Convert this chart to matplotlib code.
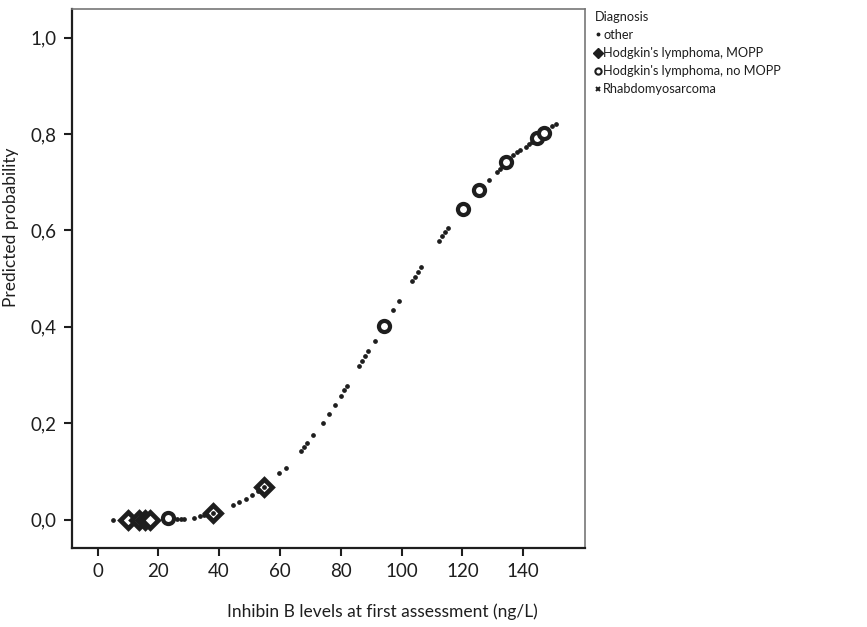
import numpy as np
import matplotlib
matplotlib.use("Agg")
import matplotlib.pyplot as plt
from matplotlib.lines import Line2D
from matplotlib.ticker import FuncFormatter

plt.rcParams['font.family'] = ['Lato', 'DejaVu Sans']

# "other" patients: inhibin B level and predicted probability
other_x = [5.2, 26.3, 27.5, 28.5, 31.7, 33.7, 35.0, 37.9, 44.7, 46.6, 48.7, 50.8, 52.8, 54.8,
           59.8, 61.9, 66.9, 67.9, 68.9, 71.0, 74.1, 76.0, 78.0, 80.0, 81.1, 82.1,
           86.1, 87.1, 88.1, 89.1, 91.2, 97.2, 99.3, 103.4, 104.3, 105.3, 106.3,
           112.4, 113.4, 114.4, 115.4, 128.6, 131.5, 132.5, 136.8, 138.0, 139.0,
           140.9, 141.8, 142.8, 149.5, 150.8]
other_y = [0.000, 0.001, 0.001, 0.001, 0.004, 0.007, 0.010, 0.013, 0.030, 0.037, 0.043, 0.050, 0.059, 0.067,
           0.096, 0.108, 0.143, 0.150, 0.159, 0.175, 0.201, 0.219, 0.238, 0.257, 0.268, 0.278,
           0.318, 0.329, 0.339, 0.349, 0.371, 0.434, 0.454, 0.495, 0.504, 0.514, 0.524,
           0.579, 0.588, 0.596, 0.605, 0.704, 0.722, 0.728, 0.756, 0.762, 0.767,
           0.774, 0.779, 0.783, 0.816, 0.820]

# Hodgkin's lymphoma, MOPP
mopp_x = [10.1, 13.8, 15.6, 17.3, 37.9, 54.8]
mopp_y = [0.000, 0.000, 0.000, 0.000, 0.013, 0.067]

# Hodgkin's lymphoma, no MOPP
nomopp_x = [23.3, 94.2, 120.3, 125.4, 134.5, 144.5, 146.8]
nomopp_y = [0.003, 0.402, 0.645, 0.683, 0.741, 0.792, 0.802]

legend_labels = ['other', "Hodgkin's lymphoma, MOPP", "Hodgkin's lymphoma, no MOPP", 'Rhabdomyosarcoma']

ink = '#1e1e1e'

fig = plt.figure(figsize=(8.67, 6.27), dpi=100)
ax = fig.add_axes([0.083, 0.126, 0.592, 0.86])

ax.plot(mopp_x, mopp_y, linestyle='none', marker='D', markersize=8, markerfacecolor='white',
        markeredgecolor=ink, markeredgewidth=3.4, zorder=3)
ax.plot(nomopp_x, nomopp_y, linestyle='none', marker='o', markersize=8, markerfacecolor='white',
        markeredgecolor=ink, markeredgewidth=3.0, zorder=3)
ax.plot(other_x, other_y, linestyle='none', marker='o', markersize=2.4, color=ink, zorder=4)

ax.set_xlim(-8.4, 160.4)
ax.set_ylim(-0.059, 1.060)
ax.set_xticks(np.arange(0, 141, 20))
ax.set_yticks(np.arange(0, 1.01, 0.2))
ax.yaxis.set_major_formatter(FuncFormatter(lambda v, p: f'{v:.1f}'.replace('.', ',')))
ax.tick_params(direction='out', length=6, width=1.5, labelsize=13.5, color=ink, labelcolor=ink, pad=5)

for s in ['left', 'bottom']:
    ax.spines[s].set_linewidth(1.6)
    ax.spines[s].set_color(ink)
for s in ['top', 'right']:
    ax.spines[s].set_linewidth(1.2)
    ax.spines[s].set_color('#777777')

ax.set_xlabel('Inhibin B levels at first assessment (ng/L)', fontsize=12.5, color=ink)
ax.xaxis.set_label_coords(0.604, -0.102)
ax.set_ylabel('Predicted probability', fontsize=12.5, color=ink)
ax.yaxis.set_label_coords(-0.103, 0.594)

handles = [
    Line2D([], [], linestyle='none', marker='o', markersize=1.8, color=ink),
    Line2D([], [], linestyle='none', marker='D', markersize=5.5, color=ink),
    Line2D([], [], linestyle='none', marker='o', markersize=4.5, markerfacecolor='white',
           markeredgecolor=ink, markeredgewidth=1.5),
    Line2D([], [], linestyle='none', marker='x', markersize=3.5, color=ink, markeredgewidth=1.4),
]
leg = fig.legend(handles, legend_labels, title='Diagnosis', loc='upper left',
                 bbox_to_anchor=(0.676, 0.997), frameon=False, fontsize=9.2, title_fontsize=9.2,
                 handlelength=0.4, handletextpad=0.25, labelspacing=0.48, borderpad=0.2,
                 alignment='left')
for t in leg.get_texts():
    t.set_color(ink)
leg.get_title().set_color(ink)

fig.savefig('out.png', dpi=100)
